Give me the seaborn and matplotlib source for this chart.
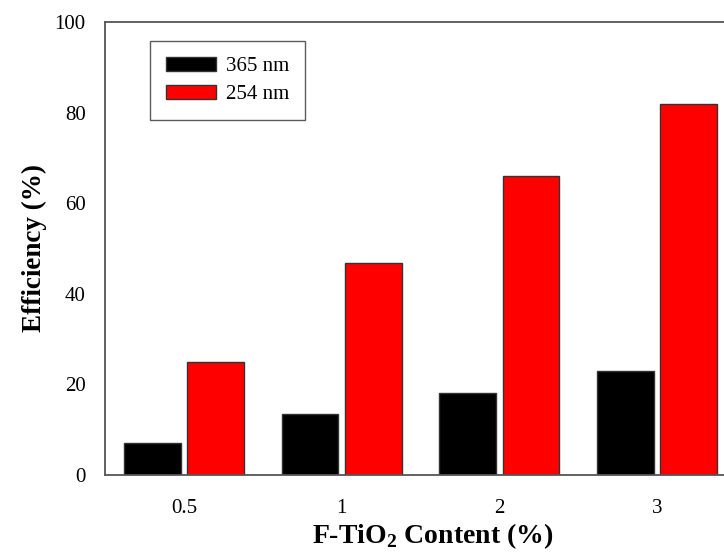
import matplotlib
matplotlib.use("Agg")
import matplotlib.pyplot as plt
import seaborn as sns
import pandas as pd

categories = ["0.5", "1", "2", "3"]
eff_365 = [7.0, 13.5, 18.1, 23.0]
eff_254 = [25.0, 46.8, 66.0, 81.9]
series = ["365 nm", "254 nm"]
colors = ["#000000", "#ff0000"]

df = pd.DataFrame({
    "content": categories * 2,
    "eff": eff_365 + eff_254,
    "wl": [series[0]] * 4 + [series[1]] * 4,
})

sns.set_theme(style="white")
plt.rcParams["font.family"] = ["Liberation Serif", "DejaVu Serif"]
plt.rcParams["mathtext.fontset"] = "custom"
plt.rcParams["mathtext.rm"] = "Liberation Serif"
plt.rcParams["mathtext.bf"] = "Liberation Serif:bold"
plt.rcParams["text.color"] = "black"
plt.rcParams["axes.labelcolor"] = "black"

fig = plt.figure(figsize=(7.24, 5.54), dpi=100)
ax = fig.add_axes([105/724, 1-475/554, (736-105)/724, (475-22)/554])

sns.barplot(data=df, x="content", y="eff", hue="wl", order=categories,
            hue_order=series, palette=colors, saturation=1, width=0.8, gap=0.1,
            edgecolor="#333333", linewidth=1.0, ax=ax, errorbar=None)

ax.set_xlim(-0.5, 3.5)
ax.set_ylim(0, 100)
ax.set_yticks([0, 20, 40, 60, 80, 100])
for s in ax.spines.values():
    s.set_color("#555555")
    s.set_linewidth(1.3)
ax.tick_params(axis="both", direction="out", length=6, width=1.0,
               color="#555555", labelsize=15, labelcolor="black")
ax.tick_params(axis="y", pad=8)
ax.tick_params(axis="x", pad=11)

ax.set_ylabel("Efficiency (%)", fontsize=19.5, fontweight="bold", labelpad=5)
ax.set_xlabel(r"F-TiO$_\mathbf{2}$ Content (%)", fontsize=20, fontweight="bold")
ax.xaxis.set_label_coords((433-105)/631, -0.103)

leg = ax.legend(loc="upper left", bbox_to_anchor=(0.0713, 0.958), borderaxespad=0,
                fontsize=15, frameon=True, fancybox=False, edgecolor="#333333",
                handlelength=2.4, handleheight=0.7, borderpad=0.75,
                labelspacing=0.4, handletextpad=0.5, title=None)
leg.get_frame().set_linewidth(1.0)
for t in leg.get_texts():
    t.set_color("black")

fig.savefig("out.png", dpi=100)
